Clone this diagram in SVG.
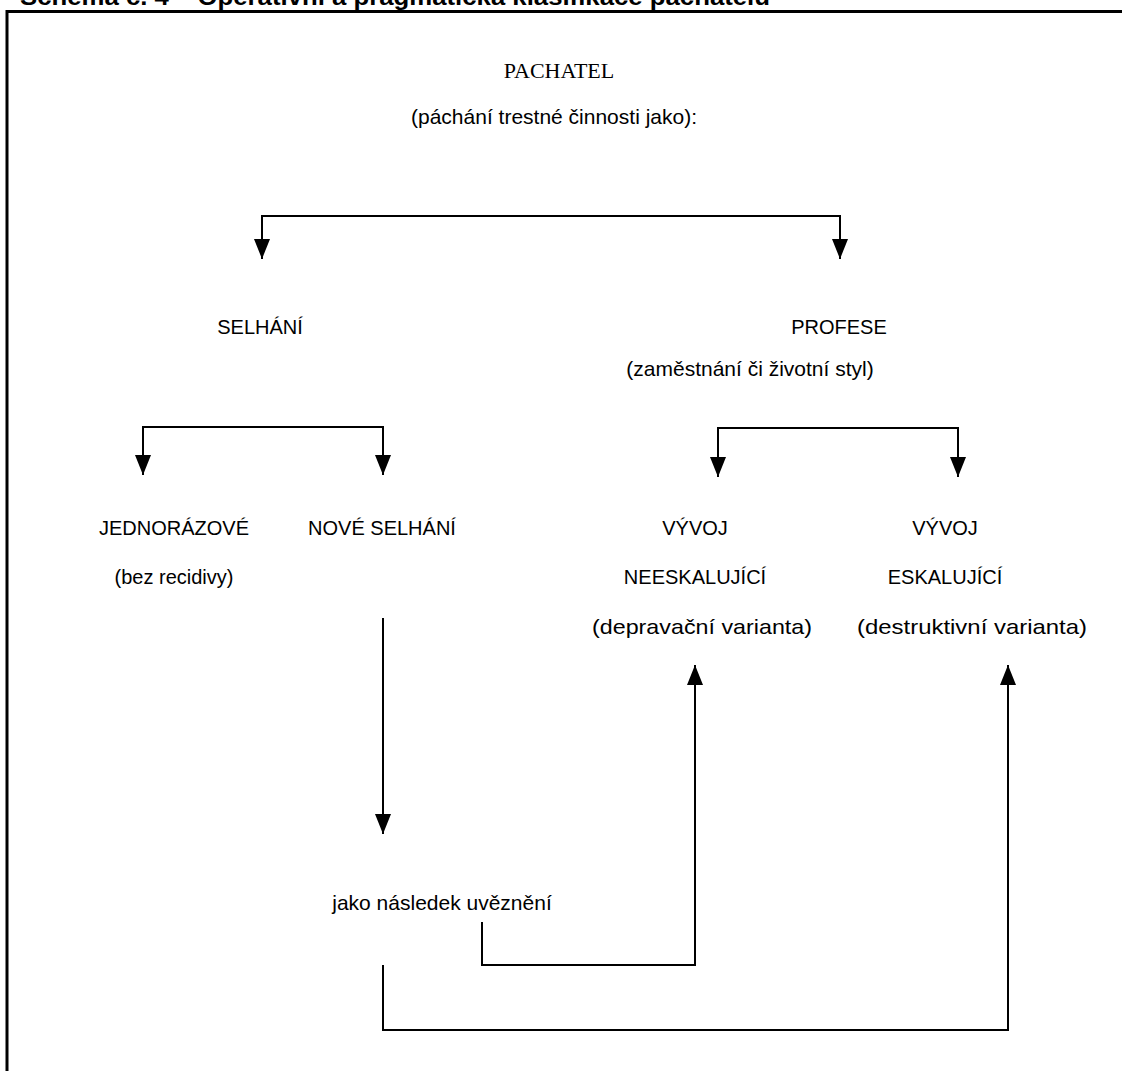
<svg xmlns="http://www.w3.org/2000/svg" width="1122" height="1071" viewBox="0 0 1122 1071">
<style>
.t{font-family:"Liberation Sans",Arial,sans-serif;font-size:20px;fill:#000;text-anchor:middle}
.w{font-family:"Liberation Sans",Arial,sans-serif;font-size:21px;fill:#000;text-anchor:middle}
.s{font-family:"Liberation Serif","Times New Roman",serif;font-size:22px;fill:#000;text-anchor:middle}
.ln{fill:none;stroke:#000;stroke-width:2}
</style>
<defs>
<marker id="ah" viewBox="0 0 20 16" refX="20" refY="8" markerWidth="20" markerHeight="16" markerUnits="userSpaceOnUse" orient="auto-start-reverse">
<path d="M0,0 L20,8 L0,16 Z" fill="#000"/>
</marker>
</defs>
<rect width="1122" height="1071" fill="#fff"/>
<text x="20" y="5" font-family="Liberation Sans,Arial,sans-serif" font-size="24" font-weight="bold" textLength="750" lengthAdjust="spacingAndGlyphs">Schéma č. 4 – Operativní a pragmatická klasifikace pachatelů</text>
<path d="M7,1071 V11.5 H1122" fill="none" stroke="#000" stroke-width="3"/>
<g id="pachatel"><text class="s" x="559" y="78">PACHATEL</text><text class="w" x="554" y="124">(páchání trestné činnosti jako):</text></g>
<g id="selhani"><text class="t" x="260" y="334">SELHÁNÍ</text></g>
<g id="profese"><text class="t" x="839" y="334">PROFESE</text><text class="w" x="750" y="376">(zaměstnání či životní styl)</text></g>
<g id="jednorazove"><text class="t" x="174" y="535">JEDNORÁZOVÉ</text><text class="t" x="174" y="584">(bez recidivy)</text></g>
<g id="nove"><text class="t" x="382" y="535">NOVÉ SELHÁNÍ</text></g>
<g id="neeskalujici"><text class="t" x="695" y="535">VÝVOJ</text><text class="t" x="695" y="584">NEESKALUJÍCÍ</text><text class="w" x="702" y="634" textLength="220" lengthAdjust="spacingAndGlyphs">(depravační varianta)</text></g>
<g id="eskalujici"><text class="t" x="945" y="535">VÝVOJ</text><text class="t" x="945" y="584">ESKALUJÍCÍ</text><text class="w" x="972" y="634" textLength="230" lengthAdjust="spacingAndGlyphs">(destruktivní varianta)</text></g>
<g id="uvezneni"><text class="w" x="442" y="910">jako následek uvěznění</text></g>
<g id="connectors">
<path class="ln" d="M262,259 V216 H840 V259" marker-start="url(#ah)" marker-end="url(#ah)"/>
<path class="ln" d="M143,475 V427 H383 V475" marker-start="url(#ah)" marker-end="url(#ah)"/>
<path class="ln" d="M718,477 V428 H958 V477" marker-start="url(#ah)" marker-end="url(#ah)"/>
<path class="ln" d="M383,618 V834" marker-end="url(#ah)"/>
<path class="ln" d="M482,922 V965 H695 V665" marker-end="url(#ah)"/>
<path class="ln" d="M383,965 V1030 H1008 V665" marker-end="url(#ah)"/>
</g>
</svg>
